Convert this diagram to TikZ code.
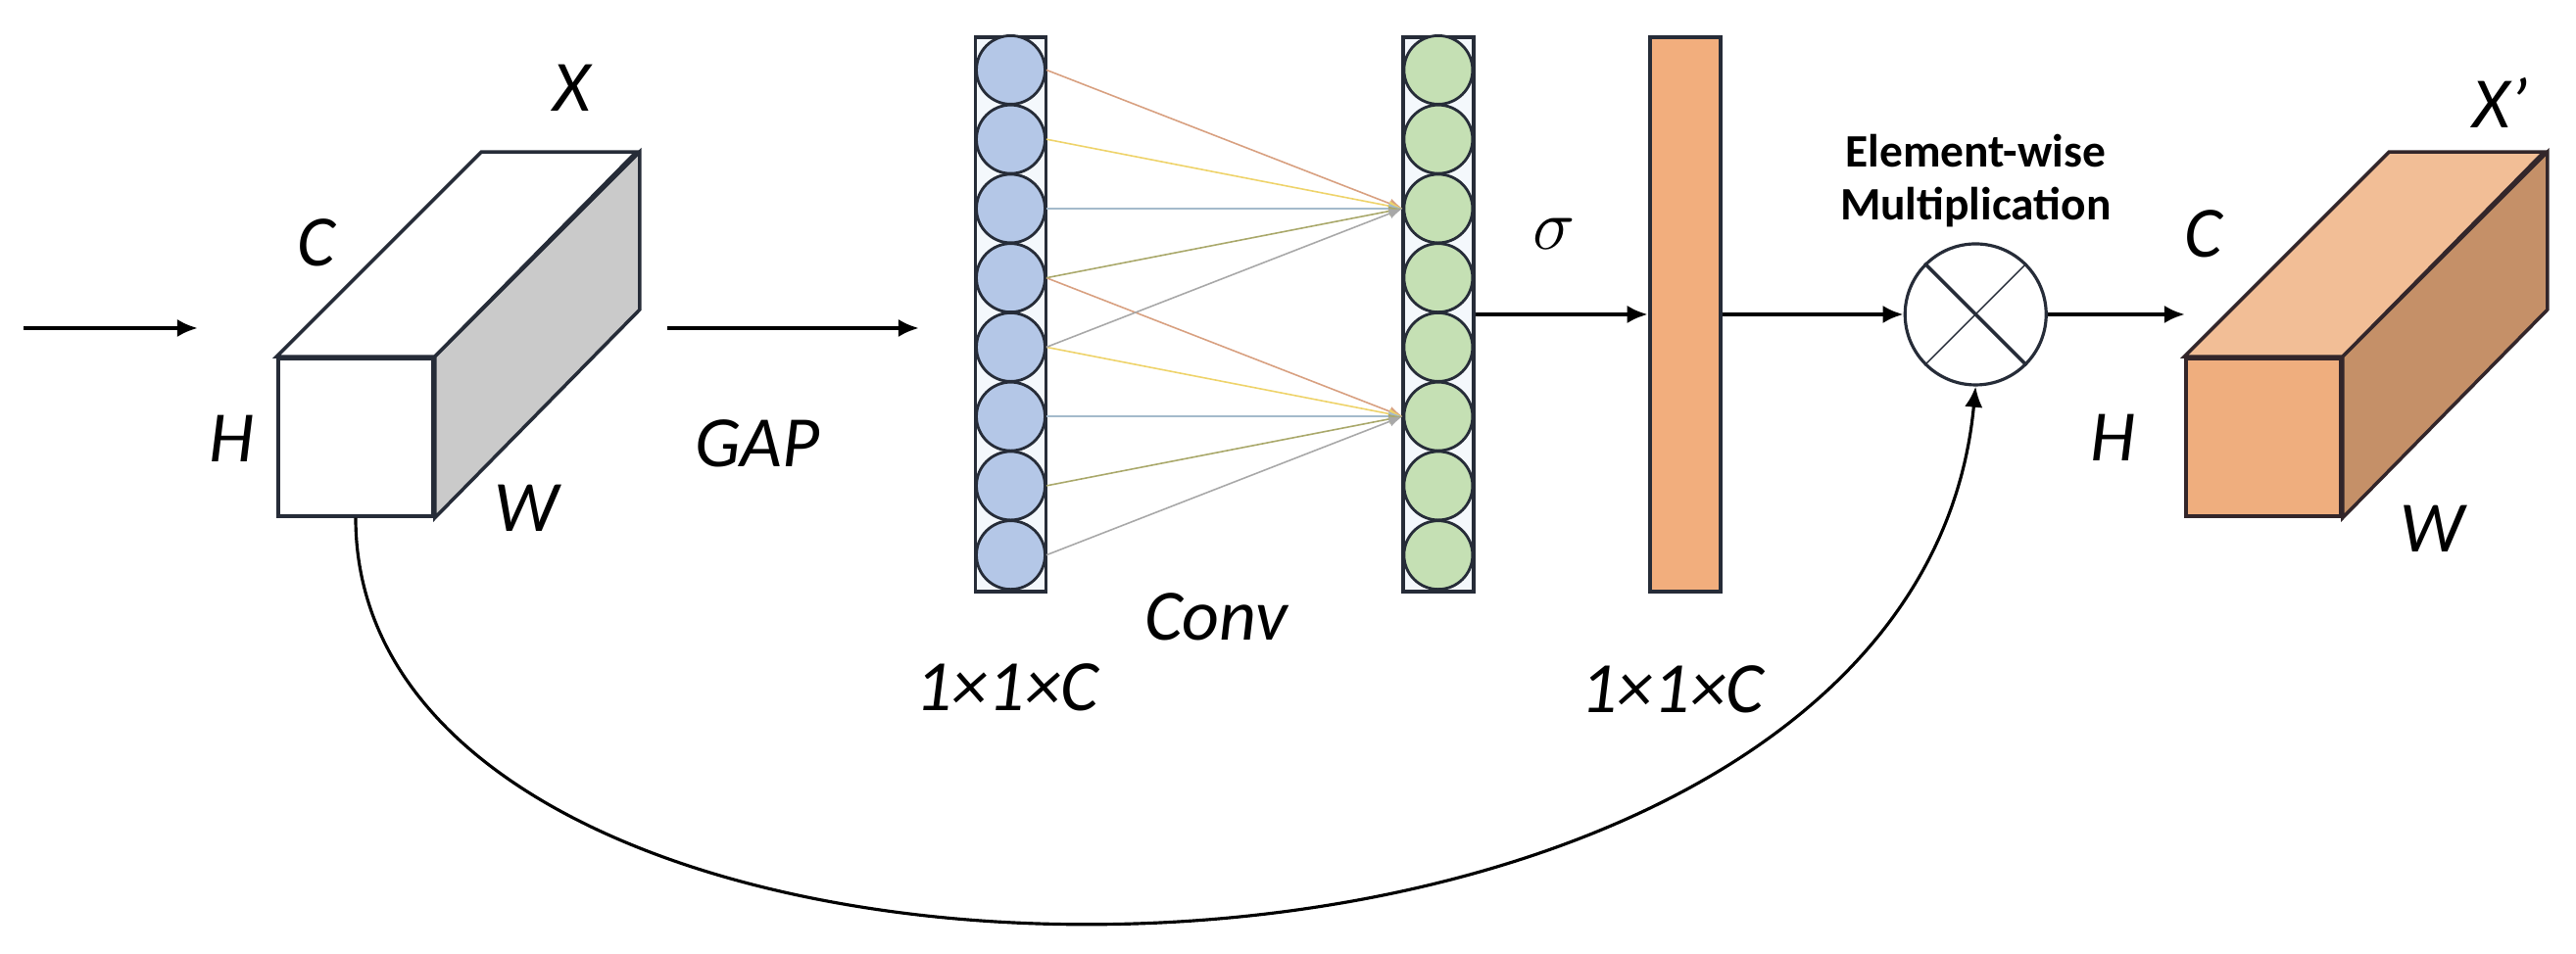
\documentclass[tikz,border=0pt]{standalone}
\usepackage{fontspec}
\setmainfont{Carlito}
\usepackage{tikz}
\usetikzlibrary{arrows.meta,positioning,calc}
\definecolor{edgedark}{HTML}{262C38}
\definecolor{blueball}{HTML}{B4C7E7}
\definecolor{greenball}{HTML}{C5E0B4}
\definecolor{colfill}{HTML}{F4F8FC}
\definecolor{orangebar}{HTML}{F2AE7D}
\definecolor{sidegray}{HTML}{CACACA}
\definecolor{outfront}{HTML}{EFAE7E}
\definecolor{outtop}{HTML}{F2BE96}
\definecolor{outside}{HTML}{C59068}
\definecolor{outedge}{HTML}{33262A}
\definecolor{convA}{HTML}{D8A080}
\definecolor{convB}{HTML}{EED36A}
\definecolor{convC}{HTML}{A4BACB}
\definecolor{convD}{HTML}{A9A86A}
\definecolor{convE}{HTML}{A8A8A8}

\begin{document}
\begin{tikzpicture}[>=Latex,
  lab/.style={font=\fontsize{21}{25}\selectfont\itshape,inner sep=0pt},
  face/.style={draw=edgedark,line width=1pt,minimum width=1.58cm,minimum height=1.61cm,inner sep=0pt},
  colbox/.style={draw=edgedark,line width=1.1pt,minimum width=0.72cm,minimum height=5.66cm,inner sep=0pt},
  ball/.style={circle,draw=edgedark,line width=0.8pt,minimum size=0.7cm,inner sep=0pt},
  flow/.style={->,line width=1.3pt,>={Latex[length=6pt,width=5.2pt]}},
  convline/.style={->,line width=0.45pt,>={Latex[length=4pt,width=3pt]}}]
\useasboundingbox (0,0) rectangle (26.29,9.74);
% input tensor X
\coordinate (in) at (0.24,6.39);
\coordinate (inend) at (2.02,6.39);
\draw[flow] (in) -- (inend);
\node[face,fill=white] (xin) at (3.63,5.275) {};
\draw[edgedark,line width=1pt,fill=white] (xin.north west) -- ++(2.09,2.09) -- ++(1.58,0) -- (xin.north east) -- cycle;
\draw[edgedark,line width=1pt,fill=sidegray] (xin.north east) -- ++(2.09,2.09) -- ++(0,-1.61) -- (xin.south east) -- cycle;
\node[lab] at (5.84,8.84) {X};
\node[lab] at (3.23,7.26) {C};
\node[lab] at (2.36,5.26) {H};
\node[lab] at (5.37,4.55) {W};
% GAP
\coordinate (gapstart) at (6.81,6.39);
\coordinate (gapend) at (9.38,6.39);
\draw[flow] (gapstart) -- (gapend);
\node[lab] at (7.73,5.21) {GAP};
% columns
\node[colbox,fill=colfill] (bcol) at (10.315,6.53) {};
\node[colbox,fill=colfill,right=3.605cm of bcol] (gcol) {};
\node[colbox,fill=orangebar,right=1.76cm of gcol] (obar) {};
\foreach \i in {1,...,8} {
  \node[ball,fill=blueball] (b\i) at ($(bcol.north)+(0,{0.35375-\i*0.7075})$) {};
  \node[ball,fill=greenball] (g\i) at ($(gcol.north)+(0,{0.35375-\i*0.7075})$) {};
}
% conv kernel
\foreach \k/\col in {0/convA,1/convB,2/convC,3/convD,4/convE} {
  \pgfmathtruncatemacro\up{1+\k}
  \pgfmathtruncatemacro\dn{4+\k}
  \draw[convline,\col] (b\up.east) -- (g3.west);
  \draw[convline,\col] (b\dn.east) -- (g6.west);
}
\node[lab] at (12.41,3.44) {Conv};
\node[lab] at (10.28,2.72) {1×1×C};
\node[lab] at (15.86,7.35) {$\sigma$};
\node[lab] at (17.07,2.70) {1×1×C};
% multiplication
\node[circle,draw=edgedark,line width=0.9pt,minimum size=1.44cm,inner sep=0pt,fill=white,right=1.85cm of obar] (mul) {};
\draw[edgedark,line width=1pt] (mul.135) -- (mul.-45);
\draw[edgedark,line width=0.4pt] (mul.45) -- (mul.-135);
\node[font=\fontsize{13.5}{15.4}\selectfont\bfseries,align=center,inner sep=0pt,above=0.15cm of mul] (mullab) {Element-wise\\Multiplication};
\draw[flow] (gcol.east) -- (obar.west);
\draw[flow] (obar.east) -- (mul.west);
% output tensor X'
\node[face,draw=outedge,fill=outfront] (xout) at (23.10,5.275) {};
\draw[outedge,line width=1pt,fill=outtop] (xout.north west) -- ++(2.09,2.09) -- ++(1.58,0) -- (xout.north east) -- cycle;
\draw[outedge,line width=1pt,fill=outside] (xout.north east) -- ++(2.09,2.09) -- ++(0,-1.61) -- (xout.south east) -- cycle;
\coordinate (outend) at (22.30,6.53);
\draw[flow] (mul.east) -- (outend);
\node[lab] at (25.52,8.69) {X’};
\node[lab] at (22.49,7.35) {C};
\node[lab] at (21.56,5.27) {H};
\node[lab] at (24.82,4.34) {W};
% skip connection
\draw[flow,line width=0.9pt] (xin.south) .. controls (3.63,-1.26) and (19.5,-1.26) .. (mul.south);
\end{tikzpicture}
\end{document}
